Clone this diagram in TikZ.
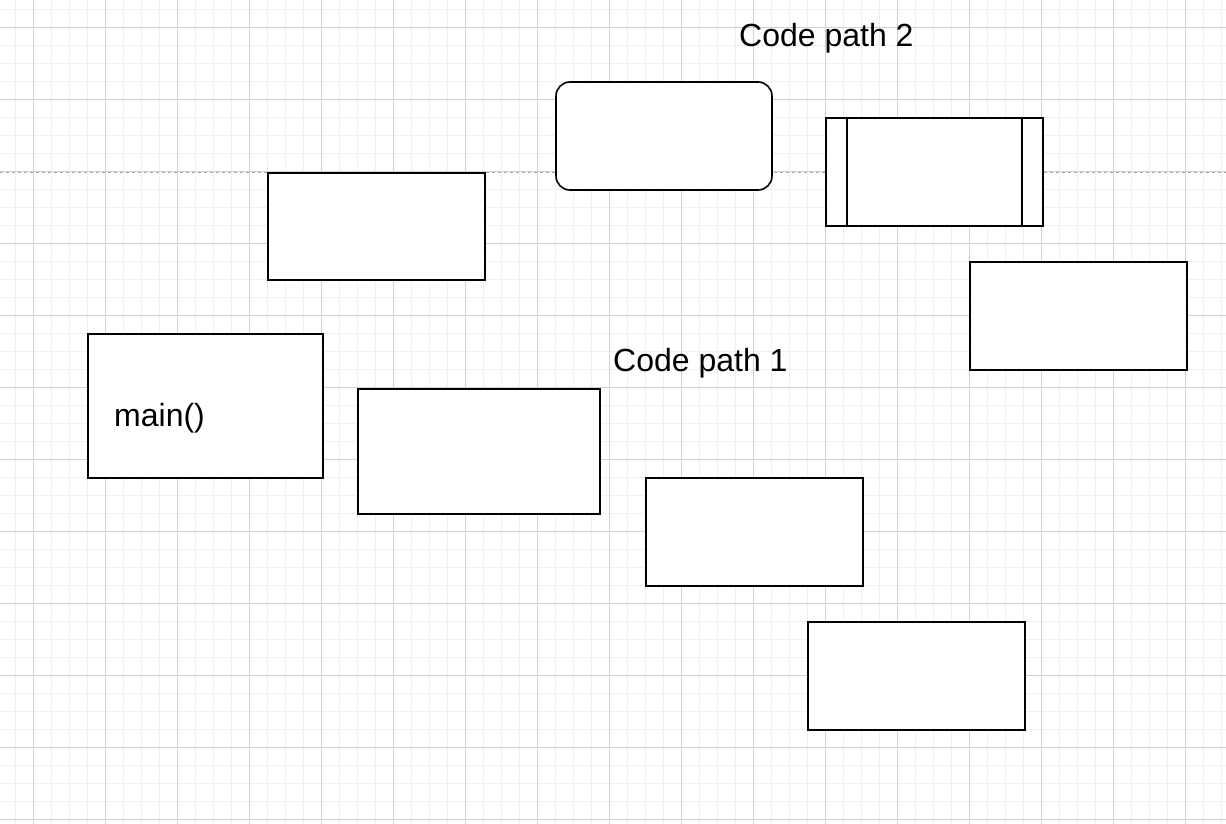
\documentclass[tikz,border=0pt]{standalone}
\usepackage{fontspec}
\setmainfont{Liberation Sans}
\usetikzlibrary{calc}

\begin{document}
\begin{tikzpicture}[x = 1pt, y = -1pt,
 box/.style = {draw, line width = 1.6pt, fill = white, rectangle, minimum width = 217pt, minimum height = 107pt, inner sep = 0pt},
 txt/.style = {font = \fontsize{32}{38}\selectfont, inner sep = 0pt}]
 \useasboundingbox (0,0) rectangle (1226,824);
 \fill[white] (0,0) rectangle (1226,824);
 % grid
 \foreach \x in {15,33,...,1226} \draw[black!6, line width = 0.8pt] (\x,0) -- (\x,824);
 \foreach \y in {9,27,...,824} \draw[black!6, line width = 0.8pt] (0,\y) -- (1226,\y);
 \foreach \x in {33,105,...,1226} \draw[black!18, line width = 0.9pt] (\x,0) -- (\x,824);
 \foreach \y in {27,99,...,824} \draw[black!18, line width = 0.9pt] (0,\y) -- (1226,\y);
 \draw[black!35, dashed, line width = 0.9pt] (0,172) -- (1226,172);
 % boxes
 \node[box] (upper) at (376.5,226.5) {};
 \node[box, rounded corners = 14pt, minimum width = 216pt, minimum height = 108pt] (rnd) at (664,136) {};
 \node[box, minimum height = 108pt] (proc) at (934.5,172) {};
 \draw[line width = 1.6pt] ([xshift = 22pt]proc.north west) -- ([xshift = 22pt]proc.south west);
 \draw[line width = 1.6pt] ([xshift = -22pt]proc.north east) -- ([xshift = -22pt]proc.south east);
 \node[box, minimum height = 108pt] (right) at (1078.5,316) {};
 \node[box, minimum width = 235pt, minimum height = 144pt] (main) at (205.5,406) {};
 \node[txt, anchor = base west] (mainlbl) at (114,426) {main()};
 \node[box, minimum width = 242pt, minimum height = 125pt] (mid) at (479,451.5) {};
 \node[box, minimum height = 108pt] (low) at (754.5,532) {};
 \node[box, minimum height = 108pt] (bottom) at (916.5,676) {};
 % labels
 \node[txt, anchor = base west] (path2) at (739,47) {Code path 2};
 \node[txt, anchor = base west] (path1) at (613,371) {Code path 1};
\end{tikzpicture}
\end{document}
